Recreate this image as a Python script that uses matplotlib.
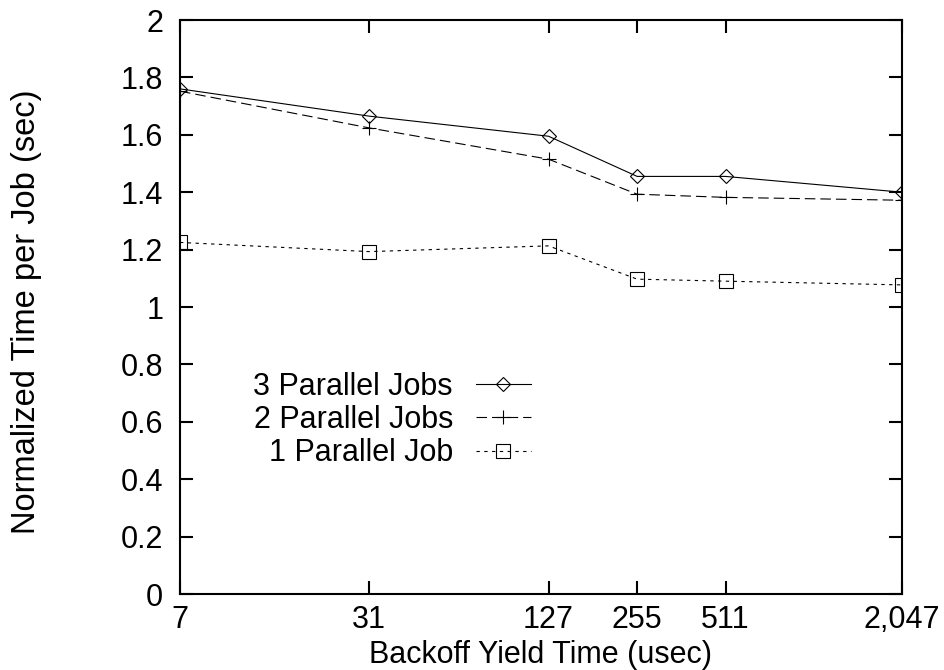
import matplotlib
matplotlib.use('Agg')
import matplotlib.pyplot as plt

# backoff yield times (usec) and normalized time per job (sec)
yield_times = [7, 31, 127, 255, 511, 2047]
x_tick_labels = ['7', '31', '127', '255', '511', '2,047']
three_jobs = [1.76, 1.665, 1.595, 1.455, 1.455, 1.40]
two_jobs = [1.752, 1.624, 1.515, 1.393, 1.382, 1.372]
one_job = [1.225, 1.193, 1.213, 1.097, 1.09, 1.077]
y_ticks = [0, 0.2, 0.4, 0.6, 0.8, 1, 1.2, 1.4, 1.6, 1.8, 2]
y_tick_labels = ['0', '0.2', '0.4', '0.6', '0.8', '1', '1.2', '1.4', '1.6', '1.8', '2']

plt.rcParams['font.family'] = ['Liberation Sans', 'DejaVu Sans']
fs = 22

fig = plt.figure(figsize=(9.45, 6.7), dpi=100)
ax = fig.add_axes([180 / 945, 1 - 594 / 670, 722 / 945, 574 / 670])

lw = 0.8
ax.plot(yield_times, three_jobs, color='black', lw=lw, marker='D', ms=6.8,
        mfc='none', mec='black', mew=0.8, label='3 Parallel Jobs')
ax.plot(yield_times, two_jobs, color='black', lw=lw, dashes=(9.5, 4.5), marker='+',
        ms=10, mew=0.8, label='2 Parallel Jobs')
ax.plot(yield_times, one_job, color='black', lw=lw, dashes=(3, 4), marker='s', ms=10,
        mfc='none', mec='black', mew=0.8, label='1 Parallel Job')

ax.set_xscale('log', base=2)
ax.set_xlim(7, 2047)
ax.set_ylim(0, 2)
ax.set_xticks(yield_times)
ax.set_xticklabels(x_tick_labels)
ax.minorticks_off()
ax.set_yticks(y_ticks)
ax.set_yticklabels(y_tick_labels)

for side in ax.spines.values():
    side.set_linewidth(1.5)
ax.tick_params(axis='both', which='major', direction='in', length=9.5, width=1.5,
               top=True, right=True, labelsize=fs)
ax.tick_params(axis='x', pad=8)
ax.tick_params(axis='y', pad=12)

ax.set_xlabel('Backoff Yield Time (usec)', fontsize=fs)
ax.set_ylabel('Normalized Time per Job (sec)', fontsize=23.5)
ax.xaxis.set_label_coords(0.5, -0.08)
ax.yaxis.set_label_coords(-0.191, 0.491)

ax.legend(loc='center right', bbox_to_anchor=(0.486, 0.303), frameon=False,
          markerfirst=False, fontsize=fs, handlelength=1.8, handletextpad=0.75,
          labelspacing=0.11, borderpad=0, borderaxespad=0, numpoints=1)

fig.savefig('out.png', dpi=100)
